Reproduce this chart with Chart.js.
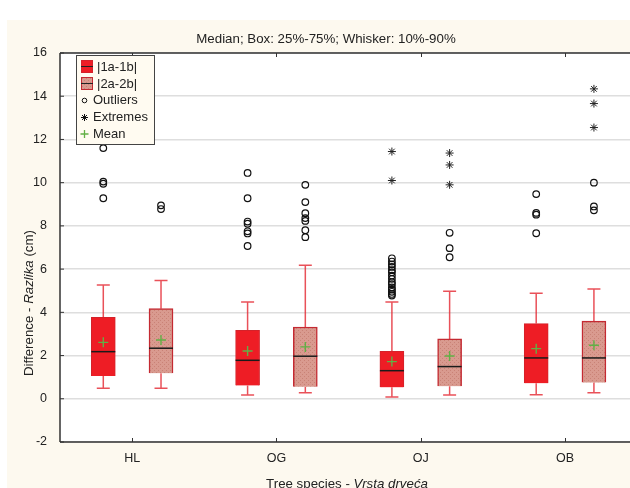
<!DOCTYPE html>
<html>
<head>
<meta charset="utf-8">
<script src="https://cdn.jsdelivr.net/npm/chart.js@4.4.1/dist/chart.umd.min.js"></script>
<style>
  html, body { margin: 0; padding: 0; background: #fff; }
</style>
</head>
<body>
<canvas id="boxChart" width="630" height="488"></canvas>
<script>
(function () {
  'use strict';

  // --- data ---
  const categories = ['HL', 'OG', 'OJ', 'OB'];
  const seriesNames = ['|1a-1b|', '|2a-2b|'];

  const q1A   = [1.05, 0.62, 0.53, 0.72];
  const q3A   = [3.77, 3.17, 2.20, 3.48];
  const medA  = [2.18, 1.78, 1.30, 1.89];
  const meanA = [2.61, 2.21, 1.72, 2.32];
  const loA   = [0.49, 0.18, 0.08, 0.19];
  const hiA   = [5.27, 4.48, 4.48, 4.88];
  const outA  = [
    [11.6, 10.05, 9.95, 9.28],
    [10.45, 9.28, 8.2, 8.1, 7.75, 7.65, 7.07],
    [6.5, 6.35, 6.22, 6.1, 5.95, 5.85, 5.7, 5.55, 5.4, 5.3, 5.15, 5.05, 4.95, 4.85, 4.78],
    [9.47, 8.6, 8.52, 7.66]
  ];
  const extA  = [[], [], [11.44, 10.1], []];

  const q1B   = [1.18, 0.56, 0.58, 0.75];
  const q3B   = [4.17, 3.32, 2.77, 3.59];
  const medB  = [2.34, 1.97, 1.49, 1.89];
  const meanB = [2.72, 2.40, 1.98, 2.48];
  const loB   = [0.49, 0.28, 0.18, 0.28];
  const hiB   = [5.47, 6.18, 4.98, 5.08];
  const outB  = [
    [8.95, 8.78],
    [9.9, 9.1, 8.59, 8.36, 8.23, 7.8, 7.48],
    [7.68, 6.97, 6.55],
    [10.0, 8.9, 8.72]
  ];
  const extB  = [[], [], [11.37, 10.82, 9.9], [14.34, 13.66, 12.55]];

  const yTicks = [-2, 0, 2, 4, 6, 8, 10, 12, 14, 16];

  // --- layout (not data) ---
  const BOX_OFF = [0.3, 0.7];   // box centre inside each group
  const X_MAX = 3.95;           // plot is cut off at the right edge
  const FONT = "'Liberation Sans', Arial, sans-serif";
  const RED = '#ee1d25';
  const WHISK = 'rgba(228,38,48,0.8)';

  // dotted fill for the second series
  function makePattern() {
    const p = document.createElement('canvas');
    p.width = 4; p.height = 4;
    const g = p.getContext('2d');
    g.fillStyle = '#d99a8f';
    g.fillRect(0, 0, 4, 4);
    g.fillStyle = '#c98276';
    g.fillRect(0, 0, 1, 1);
    g.fillRect(2, 2, 1, 1);
    return g.createPattern(p, 'repeat');
  }
  const pinkFill = makePattern();

  const S = [
    { q1: q1A, q3: q3A, med: medA, mean: meanA, lo: loA, hi: hiA, out: outA, ext: extA },
    { q1: q1B, q3: q3B, med: medB, mean: meanB, lo: loB, hi: hiB, out: outB, ext: extB }
  ];

  const boxPts  = s => categories.map((c, i) => ({ x: i + BOX_OFF[s], y: [S[s].q1[i], S[s].q3[i]] }));
  const meanPts = s => categories.map((c, i) => ({ x: i + BOX_OFF[s], y: S[s].mean[i] }));
  const listPts = (s, key) => {
    const pts = [];
    S[s][key].forEach((vals, i) => vals.forEach(v => pts.push({ x: i + BOX_OFF[s], y: v })));
    return pts;
  };

  const datasets = [
    { type: 'bar', label: seriesNames[0], data: boxPts(0), backgroundColor: RED, borderColor: '#d4222a',
      borderWidth: 1, barThickness: 24, grouped: false, order: 10, seriesIdx: 0 },
    { type: 'bar', label: seriesNames[1], data: boxPts(1), backgroundColor: pinkFill, borderColor: '#c42a32',
      borderWidth: 1.5, barThickness: 24, grouped: false, order: 10, seriesIdx: 1 },
    { type: 'scatter', label: 'Outliers', data: listPts(0, 'out').concat(listPts(1, 'out')),
      pointStyle: 'circle', pointRadius: 3.3, borderColor: '#111', backgroundColor: 'rgba(0,0,0,0)', borderWidth: 1.2, order: 0 },
    { type: 'scatter', label: 'Extremes', data: listPts(0, 'ext').concat(listPts(1, 'ext')),
      pointStyle: 'star', pointRadius: 4, borderColor: '#222', borderWidth: 1, order: 0 },
    { type: 'scatter', label: 'Mean', data: meanPts(0).concat(meanPts(1)),
      pointStyle: 'cross', pointRadius: 5, borderColor: '#62b046', borderWidth: 1.4, order: 0 }
  ];

  function px(chart, x, y) {
    return [chart.scales.x.getPixelForValue(x), chart.scales.y.getPixelForValue(y)];
  }

  function richText(ctx, parts, x, y, size) {
    let w = 0;
    parts.forEach(p => { ctx.font = (p[1] ? 'italic ' : '') + size + 'px ' + FONT; w += ctx.measureText(p[0]).width; });
    let cx = x - w / 2;
    parts.forEach(p => {
      ctx.font = (p[1] ? 'italic ' : '') + size + 'px ' + FONT;
      ctx.fillText(p[0], cx, y);
      cx += ctx.measureText(p[0]).width;
    });
  }

  const boxPlugin = {
    id: 'boxParts',
    beforeDraw(chart) {
      const { ctx, chartArea: a } = chart;
      ctx.save();
      ctx.fillStyle = '#fff';
      ctx.fillRect(0, 0, chart.width, chart.height);
      ctx.fillStyle = '#fdf9ef';
      ctx.fillRect(7, 20, chart.width - 7, chart.height - 20);
      ctx.fillStyle = '#fff';
      ctx.fillRect(a.left, a.top, a.right - a.left, a.bottom - a.top);
      ctx.restore();
    },
    beforeDatasetsDraw(chart) {
      const ctx = chart.ctx;
      ctx.save();
      ctx.strokeStyle = WHISK;
      ctx.lineWidth = 1.5;
      S.forEach((s, si) => {
        categories.forEach((c, i) => {
          const x = i + BOX_OFF[si];
          const [xp, yHi] = px(chart, x, s.hi[i]);
          const yQ3 = px(chart, x, s.q3[i])[1];
          const yQ1 = px(chart, x, s.q1[i])[1];
          const yLo = px(chart, x, s.lo[i])[1];
          ctx.beginPath();
          ctx.moveTo(xp, yHi); ctx.lineTo(xp, yQ3);
          ctx.moveTo(xp, yQ1); ctx.lineTo(xp, yLo);
          ctx.moveTo(xp - 6.5, yHi); ctx.lineTo(xp + 6.5, yHi);
          ctx.moveTo(xp - 6.5, yLo); ctx.lineTo(xp + 6.5, yLo);
          ctx.stroke();
        });
      });
      ctx.restore();
    },
    afterDatasetDraw(chart, args) {
      const si = chart.data.datasets[args.index].seriesIdx;
      if (si === undefined) return;
      const ctx = chart.ctx;
      ctx.save();
      ctx.strokeStyle = '#1a1a1a';
      ctx.lineWidth = 1.5;
      categories.forEach((c, i) => {
        const [xp, ym] = px(chart, i + BOX_OFF[si], S[si].med[i]);
        ctx.beginPath();
        ctx.moveTo(xp - 12, ym); ctx.lineTo(xp + 12, ym);
        ctx.stroke();
      });
      ctx.restore();
    },
    afterDraw(chart) {
      const { ctx, chartArea: a } = chart;
      ctx.save();
      // frame lines and inward ticks
      ctx.strokeStyle = '#333';
      ctx.lineWidth = 1.5;
      ctx.beginPath();
      ctx.moveTo(a.left, a.top); ctx.lineTo(a.right, a.top);
      ctx.moveTo(a.left, a.bottom); ctx.lineTo(a.right, a.bottom);
      ctx.moveTo(a.left, a.top); ctx.lineTo(a.left, a.bottom);
      ctx.stroke();
      ctx.lineWidth = 1;
      ctx.beginPath();
      yTicks.forEach(v => {
        const y = chart.scales.y.getPixelForValue(v);
        ctx.moveTo(a.left, y); ctx.lineTo(a.left + 4, y);
      });
      chart.scales.x.ticks.forEach(t => {
        const x = Math.round(chart.scales.x.getPixelForValue(t.value)) + 0.5;
        ctx.moveTo(x, a.bottom); ctx.lineTo(x, a.bottom - 4);
        ctx.moveTo(x, a.top); ctx.lineTo(x, a.top + 4);
      });
      ctx.stroke();

      // titles
      ctx.fillStyle = '#222';
      ctx.textBaseline = 'middle';
      richText(ctx, [['Median; Box: 25%-75%; Whisker: 10%-90%', false]], 326, 39, 13.3);
      richText(ctx, [['Tree species - ', false], ['Vrsta drveća', true]], 347, 484, 13.3);
      ctx.save();
      ctx.translate(29, 303);
      ctx.rotate(-Math.PI / 2);
      richText(ctx, [['Difference - ', false], ['Razlika', true], [' (cm)', false]], 0, 0, 13.3);
      ctx.restore();

      // legend
      const L = 76, T = 55, W = 78, H = 89;
      ctx.fillStyle = '#fffbf1';
      ctx.fillRect(L, T, W, H);
      ctx.strokeStyle = '#444';
      ctx.lineWidth = 1;
      ctx.strokeRect(L + 0.5, T + 0.5, W, H);
      // box swatches
      [[RED, '#d4222a', 66.5], [pinkFill, '#c42a32', 83.5]].forEach((sw, k) => {
        ctx.fillStyle = sw[0];
        ctx.fillRect(81, sw[2] - 6.5, 12, 13);
        ctx.strokeStyle = sw[1];
        ctx.strokeRect(81.5, sw[2] - 6, 11, 12);
        ctx.strokeStyle = '#222';
        ctx.beginPath(); ctx.moveTo(81, sw[2]); ctx.lineTo(93, sw[2]); ctx.stroke();
        ctx.fillStyle = '#222';
        ctx.font = '13px ' + FONT;
        ctx.fillText(seriesNames[k], 97, sw[2] + 0.5);
      });
      // point swatches
      ctx.strokeStyle = '#111';
      ctx.lineWidth = 1;
      ctx.beginPath(); ctx.arc(84.5, 100.5, 2.3, 0, Math.PI * 2); ctx.stroke();
      Chart.helpers.drawPoint(ctx, { pointStyle: 'star', radius: 3.5, rotation: 0, borderWidth: 1 }, 84.5, 117.5);
      ctx.strokeStyle = '#62b046';
      ctx.lineWidth = 1.3;
      ctx.beginPath();
      ctx.moveTo(80.5, 134); ctx.lineTo(88.5, 134);
      ctx.moveTo(84.5, 130); ctx.lineTo(84.5, 138);
      ctx.stroke();
      ctx.fillStyle = '#222';
      ctx.font = '13px ' + FONT;
      ctx.fillText('Outliers', 93, 100.5);
      ctx.fillText('Extremes', 93, 117.5);
      ctx.fillText('Mean', 93, 134.5);
      ctx.restore();
    }
  };

  new Chart(document.getElementById('boxChart').getContext('2d'), {
    data: { datasets },
    options: {
      responsive: false,
      animation: false,
      layout: { autoPadding: false, padding: { top: 53, right: 0, left: 0, bottom: 0 } },
      plugins: { legend: { display: false }, tooltip: { enabled: false }, title: { display: false } },
      scales: {
        x: {
          type: 'linear', min: 0, max: X_MAX, offset: false,
          grid: { display: false, drawTicks: false, offset: false },
          border: { display: false },
          ticks: { autoSkip: false, maxRotation: 0, padding: 9, color: '#222', font: { family: FONT, size: 12.5 },
                   callback: (v, i) => categories[i] },
          afterBuildTicks: sc => { sc.ticks = categories.map((c, i) => ({ value: i + 0.5 })); },
          afterFit: sc => { sc.height = 46; sc.paddingLeft = 0; sc.paddingRight = 0; }
        },
        y: {
          min: -2, max: 16,
          grid: { color: '#dedede', lineWidth: 1.5, drawTicks: false },
          border: { display: false },
          ticks: { padding: 13, color: '#222', font: { family: FONT, size: 12.5 } },
          afterBuildTicks: sc => { sc.ticks = yTicks.map(v => ({ value: v })); },
          afterFit: sc => { sc.width = 60; }
        }
      }
    },
    plugins: [boxPlugin]
  });
})();
</script>
</body>
</html>
